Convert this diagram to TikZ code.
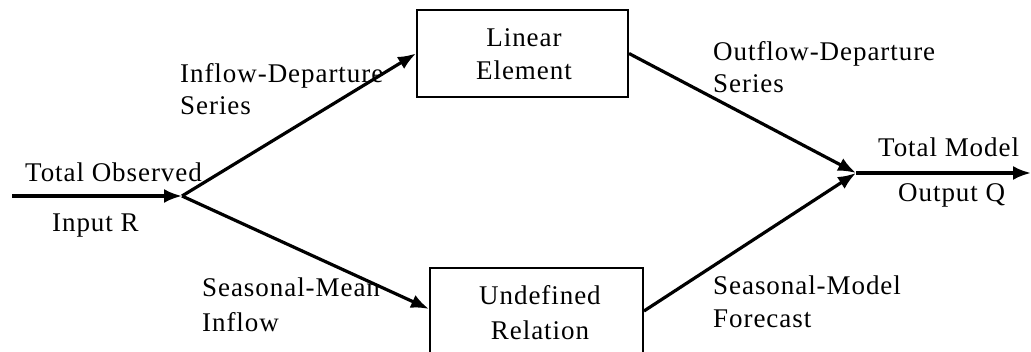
\documentclass[tikz,border=0pt]{standalone}
\usepackage{fontspec}
\setmainfont{Liberation Serif}[LetterSpace=3.5]
\usetikzlibrary{arrows.meta}
\begin{document}
\begin{tikzpicture}[x=1pt,y=-1pt,
  font=\fontsize{27}{34}\selectfont,
  blockbox/.style={draw, line width=2pt, inner sep=0pt},
  txt/.style={inner sep=0pt, anchor=base west},
  ctxt/.style={inner sep=0pt, anchor=base},
  flow/.style={line width=3.2pt, -{Latex[length=18pt,width=14pt]}}]
\useasboundingbox (0,0) rectangle (1031,352);
% boxes
\node[blockbox, minimum width=211pt, minimum height=87pt] (lin) at (522.5,53.5) {};
\node[blockbox, minimum width=213pt, minimum height=112pt] (und) at (536.5,324) {};
% box texts
\node[ctxt] (linA) at (524,47) {Linear};
\node[ctxt] (linB) at (524,80) {Element};
\node[ctxt] (undA) at (540,305) {Undefined};
\node[ctxt] (undB) at (540,340) {Relation};
% junctions
\coordinate (start) at (12,196);
\coordinate (j1) at (182,196);
\coordinate (j2) at (856,173);
\coordinate (fin) at (1031,173);
% connectors
\draw[flow] (start) -- (j1);
\draw[flow] (j1) -- (lin.west);
\draw[flow] (j1) -- ([yshift=-42pt]und.north west);
\draw[flow] (lin.east) -- (j2);
\draw[flow] ([yshift=-44pt]und.north east) -- (j2);
\draw[flow] (j2) -- (fin);
% labels
\node[txt] (tobs) at (25,182) {Total Observed};
\node[txt] (inr) at (52,232) {Input R};
\node[txt] (idA) at (180,83) {Inflow-Departure};
\node[txt] (idB) at (180,115) {Series};
\node[txt] (smA) at (202,297) {Seasonal-Mean};
\node[txt] (smB) at (202,332) {Inflow};
\node[txt] (odA) at (713,61) {Outflow-Departure};
\node[txt] (odB) at (713,93) {Series};
\node[txt] (sfA) at (713,295) {Seasonal-Model};
\node[txt] (sfB) at (713,328) {Forecast};
\node[txt] (tmA) at (878,157) {Total Model};
\node[txt] (tmB) at (898,202) {Output Q};
\end{tikzpicture}
\end{document}
